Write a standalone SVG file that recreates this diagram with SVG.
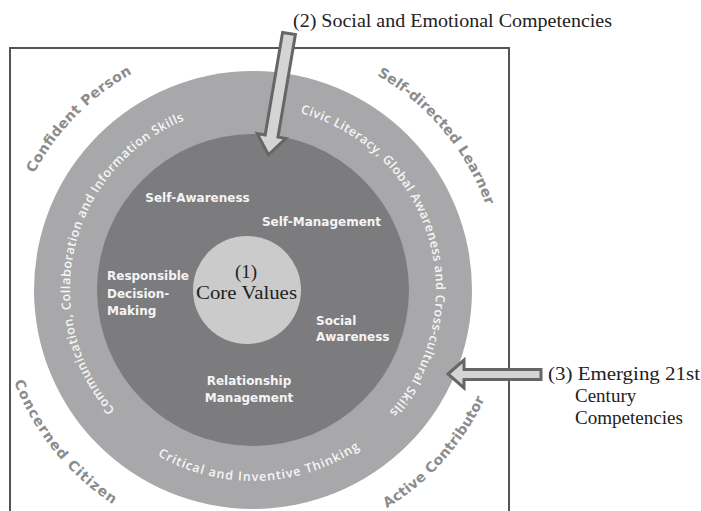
<svg xmlns="http://www.w3.org/2000/svg" width="701" height="511" viewBox="0 0 701 511">
<style>
.frame{fill:none;stroke:#555;stroke-width:2}
.outer{fill:#a8a8aa}
.inner{fill:#7c7c7e}
.core{fill:#cbcbcb}
.lbl{font-family:"DejaVu Sans",sans-serif;font-weight:bold;font-size:12px;fill:#f4f4f4}
.ring{font-family:"Open Sans","DejaVu Sans",sans-serif;font-weight:600;font-size:12.5px;fill:#f6f6f6}
.corner{font-family:"DejaVu Sans",sans-serif;font-weight:bold;font-size:14px;fill:#8c8c8c}
.serif{font-family:"Liberation Serif","Times New Roman",serif;font-size:19px;fill:#222}
.arrow{fill:#d4d4d4;stroke:#666;stroke-width:3;stroke-linejoin:miter}
</style>
<defs>
<path id="pComm" d="M114.9,410.1 A183,183 0 0 1 184.4,120.3"/>
<path id="pCivic" d="M300.4,113.2 A183,183 0 0 1 389.0,412.4"/>
<path id="pCrit" d="M157.5,455.4 A191,191 0 0 0 359.8,448.3"/>
<path id="pConf" d="M34.0,173.6 A248,248 0 0 1 132.8,73.1"/>
<path id="pSelf" d="M377,75.2 A248,248 0 0 1 486.0,205.2"/>
<path id="pConc" d="M14.0,381.7 A256,256 0 0 0 113.6,504.7"/>
<path id="pAct" d="M386.8,508.3 A256,256 0 0 0 485.0,398.2"/>
</defs>
<g id="frame">
<path class="frame" d="M10,512 V48 H509 V512"/>
</g>
<g id="ring-outer">
<circle class="outer" cx="253" cy="290" r="219"/>
</g>
<g id="ring-inner">
<circle class="inner" cx="253" cy="290" r="156"/>
</g>
<g id="core">
<circle class="core" cx="247" cy="290" r="54"/>
<text class="serif" x="246" y="278" text-anchor="middle" font-size="17">(1)</text>
<text class="serif" x="246.5" y="299" text-anchor="middle" textLength="101" lengthAdjust="spacingAndGlyphs">Core Values</text>
</g>
<g id="sec-labels">
<text class="lbl" x="197.5" y="202" text-anchor="middle">Self-Awareness</text>
<text class="lbl" x="321.5" y="226" text-anchor="middle">Self-Management</text>
<text class="lbl" x="107" y="280">Responsible</text>
<text class="lbl" x="107" y="297.5">Decision-</text>
<text class="lbl" x="107" y="315">Making</text>
<text class="lbl" x="316" y="325">Social</text>
<text class="lbl" x="316" y="341">Awareness</text>
<text class="lbl" x="249" y="385" text-anchor="middle">Relationship</text>
<text class="lbl" x="249" y="402" text-anchor="middle">Management</text>
</g>
<g id="ring-labels">
<text class="ring"><textPath href="#pComm" textLength="348" lengthAdjust="spacing">Communication, Collaboration and Information Skills</textPath></text>
<text class="ring"><textPath href="#pCivic" textLength="373" lengthAdjust="spacing">Civic Literacy, Global Awareness and Cross-cultural Skills</textPath></text>
<text class="ring"><textPath href="#pCrit" textLength="213" lengthAdjust="spacing">Critical and Inventive Thinking</textPath></text>
</g>
<g id="outcomes">
<text class="corner"><textPath href="#pConf" textLength="142" lengthAdjust="spacing">Confident Person</textPath></text>
<text class="corner"><textPath href="#pSelf" textLength="173" lengthAdjust="spacing">Self-directed Learner</textPath></text>
<text class="corner"><textPath href="#pConc" textLength="160" lengthAdjust="spacing">Concerned Citizen</textPath></text>
<text class="corner"><textPath href="#pAct" textLength="149" lengthAdjust="spacing">Active Contributor</textPath></text>
</g>
<g id="connectors">
<polygon class="arrow" transform="translate(289,33.5) rotate(9.65)" points="-6.5,0 6.5,0 6.5,104 14.5,104 0,123 -14.5,104 -6.5,104"/>
<polygon class="arrow" points="448,374 464,360 464,369.5 541,369.5 541,379.5 464,379.5 464,388"/>
</g>
<g id="callouts">
<text class="serif" x="293" y="27" textLength="319" lengthAdjust="spacingAndGlyphs">(2) Social and Emotional Competencies</text>
<text class="serif" x="548" y="380" textLength="152" lengthAdjust="spacingAndGlyphs">(3) Emerging 21st</text>
<text class="serif" x="575" y="402">Century</text>
<text class="serif" x="575" y="424" textLength="108" lengthAdjust="spacingAndGlyphs">Competencies</text>
</g>
</svg>
